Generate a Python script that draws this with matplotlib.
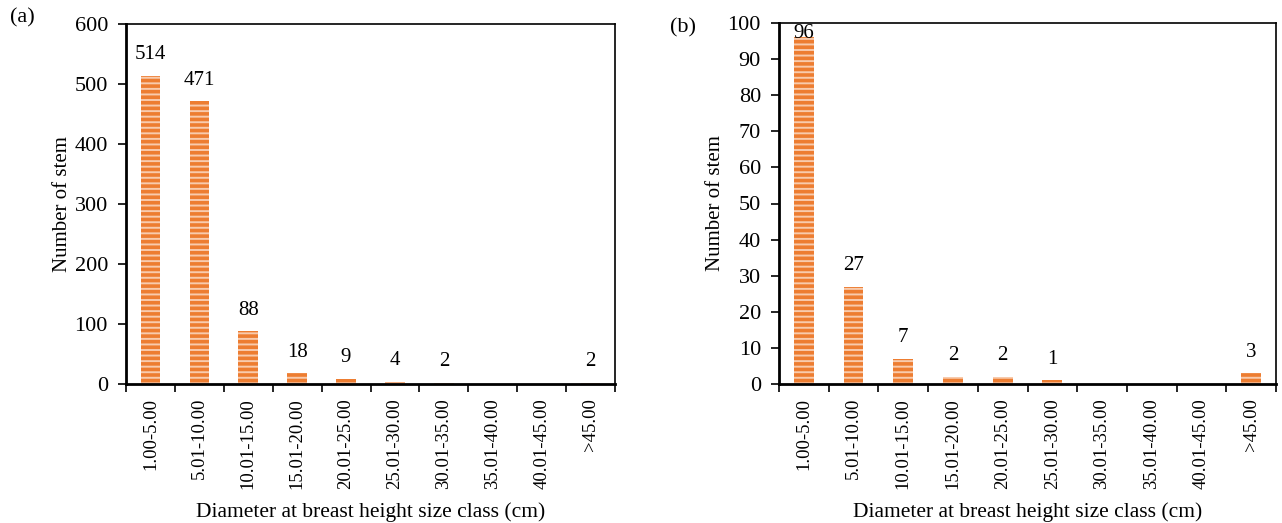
import matplotlib
matplotlib.use("Agg")
import matplotlib.pyplot as plt
import numpy as np

categories = ["1.00-5.00", "5.01-10.00", "10.01-15.00", "15.01-20.00", "20.01-25.00",
              "25.01-30.00", "30.01-35.00", "35.01-40.00", "40.01-45.00", ">45.00"]
values_a = [514, 471, 88, 18, 9, 4, 2, 0, 0, 2]
values_b = [96, 27, 7, 2, 2, 1, 0, 0, 0, 3]
ylim_a, yticks_a = 600, np.arange(0, 601, 100)
ylim_b, yticks_b = 100, np.arange(0, 101, 10)

plt.rcParams['font.family'] = ['Liberation Serif', 'DejaVu Serif']
plt.rcParams['hatch.linewidth'] = 2.6

fig = plt.figure(figsize=(12.82, 5.23), dpi=100)
ax_a = fig.add_axes([126/1282, 139/523, 489/1282, 360/523])
ax_b = fig.add_axes([779/1282, 139/523, 497/1282, 361/523])

def draw(ax, vals, ylim, yticks, label_px_offset=21, top_pad_px=10):
    x = np.arange(len(categories))
    ax.bar(x, vals, width=0.4, facecolor='#F8CBAD', edgecolor='#ED7D31',
           linewidth=0, hatch='---')
    ax.set_xlim(-0.5, len(categories) - 0.5)
    ax.set_ylim(0, ylim)
    ax.set_yticks(yticks)
    ax.set_xticks(x)
    ax.set_xticklabels(categories, rotation=90, fontsize=13.5)
    ax.set_xticks(np.arange(-0.5, len(categories) + 0.5, 1), minor=True)
    ax.tick_params(axis='x', which='major', length=0, pad=10)
    ax.tick_params(axis='x', which='minor', length=6, width=1.2, direction='out')
    ax.tick_params(axis='y', length=6, width=1.2, labelsize=16, pad=7)
    for s in ax.spines.values():
        s.set_linewidth(1.2)
    ax.spines['bottom'].set_linewidth(2)
    ax.spines['left'].set_linewidth(2)
    ax.set_ylabel("Number of stem", fontsize=15, labelpad=2)
    ax.set_xlabel("Diameter at breast height size class (cm)", fontsize=15.5, labelpad=10)
    h_px = ax.get_position().height * fig.get_size_inches()[1] * fig.dpi
    per_px = ylim / h_px
    for xi, v in zip(x, vals):
        if v > 0:
            y = min(v + label_px_offset * per_px, ylim - top_pad_px * per_px)
            ax.text(xi, y, str(v), ha='center', va='center', fontsize=15)

draw(ax_a, values_a, ylim_a, yticks_a)
draw(ax_b, values_b, ylim_b, yticks_b)

fig.text(10/1282, 1 - 18/523, "(a)", fontsize=16, ha='left', va='center')
fig.text(670/1282, 1 - 28/523, "(b)", fontsize=16, ha='left', va='center')

fig.savefig("out.png", dpi=100)
